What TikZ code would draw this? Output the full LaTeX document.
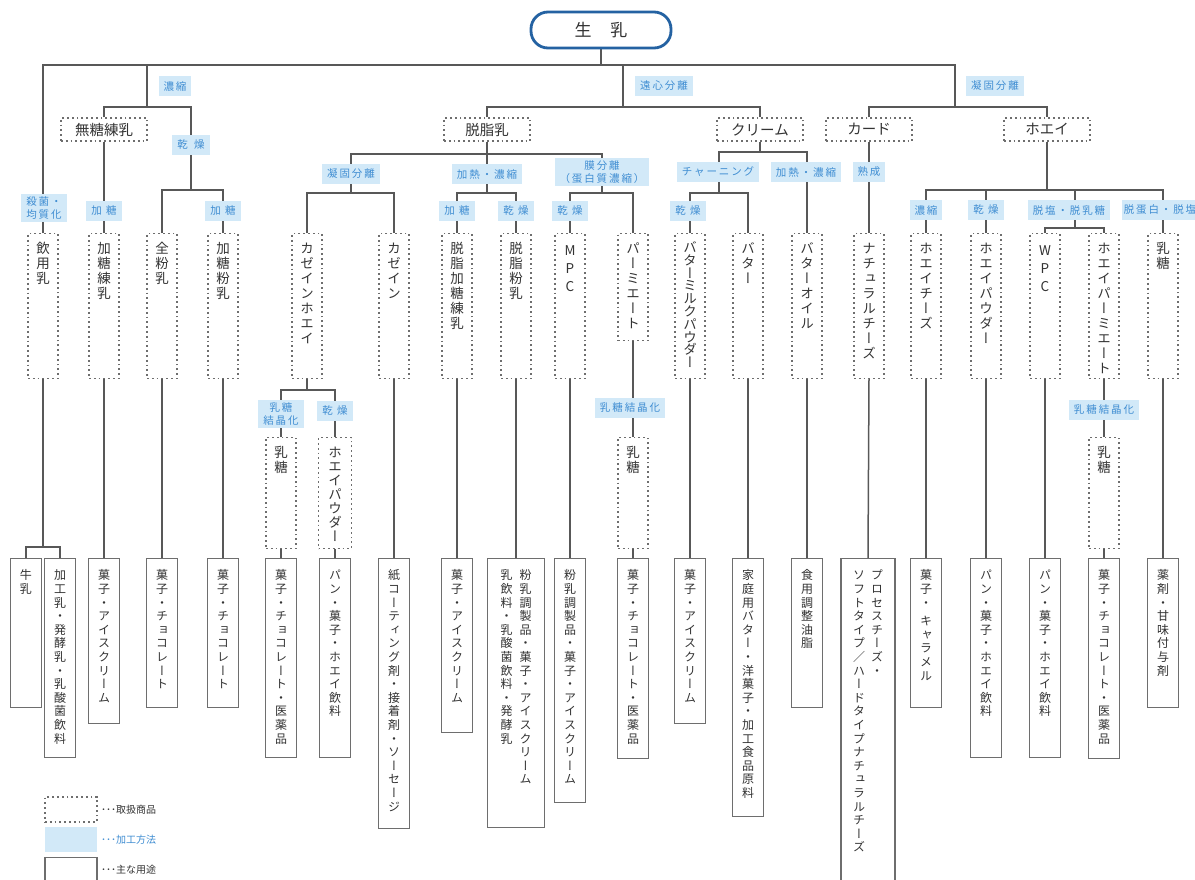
\documentclass[tikz,border=0pt]{standalone}
\usepackage{fontspec}
\setmainfont{Noto Sans CJK JP}
\newfontfamily\vjp[RawFeature=+vert]{Noto Sans CJK JP}
\newfontfamily\lbljp[LetterSpace=18]{Noto Sans CJK JP}
\usetikzlibrary{backgrounds}
\definecolor{lnc}{HTML}{585858}
\definecolor{bxc}{HTML}{6E6E6E}
\definecolor{lblf}{HTML}{D2E9F8}
\definecolor{lblt}{HTML}{3F8DD2}
\definecolor{rootc}{HTML}{2462A2}
\definecolor{txc}{HTML}{333333}
\newdimen\vpitch \newdimen\vcw \newdimen\vpad
\newcommand\vcell[1]{\hbox to \vcw{\hss\vbox to \vpitch{\vss\hbox{\vrule width 0pt height .88em depth .12em\smash{#1}}\vss}\hss}}
\ExplSyntaxOn
\NewDocumentCommand\vcells{m}{ \tl_map_inline:nn {#1} { \vcell{##1} } }
\ExplSyntaxOff
\newcommand\vt[2]{\vbox to #1{\offinterlineskip\vskip\vpad\vcells{#2}\vss}}
\newcommand\vdfont{\vjp\fontsize{13.5}{15}\selectfont\vpitch=15pt\relax\vcw=15pt\relax\vpad=7.5pt\relax}
\newcommand\vsfont{\vjp\fontsize{12}{14}\selectfont\vpitch=13.6pt\relax\vcw=14pt\relax\vpad=10pt\relax}
\tikzset{
  conn/.style={draw=lnc, line width=1.5pt},
  root/.style={draw=rootc, line width=2.8pt, rounded corners=17pt, minimum width=140pt, minimum height=36pt, inner sep=0pt, text=txc, font=\fontsize{17}{20}\selectfont},
  hd/.style={draw=bxc, line width=1.1pt, dash pattern=on 1.8pt off 3pt, minimum width=86pt, minimum height=23pt, inner sep=0pt, text=txc, font=\fontsize{14.5}{17}\selectfont},
  lbl/.style={fill=lblf, text=lblt, inner xsep=5pt, inner ysep=0pt, minimum height=20pt, font=\lbljp\fontsize{10.5}{12.5}\selectfont},
  lbltwo/.style={lbl, align=center, inner ysep=2.5pt},
  vd/.style={draw=bxc, line width=1.1pt, dash pattern=on 1.8pt off 3pt, minimum width=30pt, inner sep=0pt, anchor=north, text=txc, font=\vdfont},
  vs/.style={draw=bxc, line width=1.2pt, minimum width=31pt, inner sep=0pt, anchor=north, text=txc, font=\vsfont},
  leg/.style={anchor=west, inner sep=0pt, font=\fontsize{10}{12}\selectfont, text=txc},
}
\begin{document}
\begin{tikzpicture}[x=1pt,y=-1pt]
\useasboundingbox (0,0) rectangle (1195,879);
% root
\node[root] (milk) at (601,30) {生\hspace{1.1em}乳};
% level 1 labels
\node[lbl] (lA) at (175,86) {濃縮};
\node[lbl] (lB) at (664,86) {遠心分離};
\node[lbl] (lC) at (995,86) {凝固分離};
% level 2 boxes
\node[hd] (mutou) at (104,129.5) {無糖練乳};
\node[hd] (dasshi) at (487,129.5) {脱脂乳};
\node[hd] (cream) at (760,129.5) {クリーム};
\node[hd] (curd) at (869,129.5) {カード};
\node[hd] (whey) at (1047,129.5) {ホエイ};
% level 3 labels
\node[lbl] (lkan1) at (191,145) {乾\hspace{0.6em}燥};
\node[lbl] (lgyo2) at (351,174) {凝固分離};
\node[lbl] (lkane1) at (487,174) {加熱・濃縮};
\node[lbltwo] (lmaku) at (602,172) {膜分離\\（蛋白質濃縮）};
\node[lbl] (lchurn) at (718,172) {チャーニング};
\node[lbl] (lkane2) at (806,172) {加熱・濃縮};
\node[lbl] (ljuku) at (869,172) {熟成};
% level 4 labels
\node[lbltwo] (lsak) at (44,208) {殺菌・\\均質化};
\node[lbl] (lkat1) at (104,211) {加\hspace{0.4em}糖};
\node[lbl] (lkat2) at (223,211) {加\hspace{0.4em}糖};
\node[lbl] (lkat3) at (457,211) {加\hspace{0.4em}糖};
\node[lbl] (lkan2) at (516,211) {乾\hspace{0.4em}燥};
\node[lbl] (lkan3) at (570,211) {乾\hspace{0.4em}燥};
\node[lbl] (lkan4) at (688,211) {乾\hspace{0.4em}燥};
\node[lbl] (lnou2) at (926,210) {濃縮};
\node[lbl] (lkan5) at (986,210) {乾\hspace{0.4em}燥};
\node[lbl] (ldsalt) at (1069,210) {脱塩・脱乳糖};
\node[lbl, inner xsep=2pt] (ldprot) at (1160,210) {脱蛋白・脱塩};
% dotted product boxes
\node[vd] (inyo) at (43,233) {\vt{145pt}{飲用乳}};
\node[vd] (katoren) at (104,233) {\vt{145pt}{加糖練乳}};
\node[vd] (zenfun) at (162,233) {\vt{145pt}{全粉乳}};
\node[vd] (kafun) at (223,233) {\vt{145pt}{加糖粉乳}};
\node[vd] (casw) at (307,233) {\vt{145pt}{カゼインホエイ}};
\node[vd] (casein) at (394,233) {\vt{145pt}{カゼイン}};
\node[vd] (skren) at (457,233) {\vt{145pt}{脱脂加糖練乳}};
\node[vd] (skfun) at (516,233) {\vt{145pt}{脱脂粉乳}};
\node[vd] (mpc) at (570,233) {\vpitch=18pt\vt{145pt}{MPC}};
\node[vd] (perm) at (633,233) {\vt{107pt}{パーミエート}};
\node[vd] (bmp) at (690,233) {\vpitch=12.8pt\vt{145pt}{バターミルクパウダー}};
\node[vd] (butter) at (748,233) {\vt{145pt}{バター}};
\node[vd] (boil) at (807,233) {\vt{145pt}{バターオイル}};
\node[vd] (natural) at (869,233) {\vt{145pt}{ナチュラルチーズ}};
\node[vd] (wcheese) at (926,233) {\vt{145pt}{ホエイチーズ}};
\node[vd] (wpowder) at (986,233) {\vt{145pt}{ホエイパウダー}};
\node[vd] (wpc) at (1045,233) {\vpitch=18pt\vt{145pt}{WPC}};
\node[vd] (wperm) at (1104,233) {\vt{145pt}{ホエイパーミエート}};
\node[vd] (lactose) at (1163,233) {\vt{145pt}{乳糖}};
% second tier labels
\node[lbltwo] (llac1) at (281,414) {乳糖\\結晶化};
\node[lbl] (lkan6) at (335,411) {乾\hspace{0.4em}燥};
\node[lbl] (llac2) at (630,408) {乳糖結晶化};
\node[lbl] (llac3) at (1104,410) {乳糖結晶化};
% second tier dotted boxes
\node[vd] (lac1) at (281,437) {\vt{111pt}{乳糖}};
\node[vd, minimum width=33pt] (wpow2) at (335,437) {\vpitch=14pt\vt{111pt}{ホエイパウダー}};
\node[vd] (lac2) at (633,437) {\vt{111pt}{乳糖}};
\node[vd] (lac3) at (1104,437) {\vt{111pt}{乳糖}};
% uses (solid boxes)
\node[vs] (u1) at (26,558) {\vt{149pt}{牛乳}};
\node[vs] (u2) at (60,558) {\vt{199pt}{加工乳・発酵乳・乳酸菌飲料}};
\node[vs] (u3) at (104,558) {\vt{165pt}{菓子・アイスクリーム}};
\node[vs] (u4) at (162,558) {\vt{149pt}{菓子・チョコレート}};
\node[vs] (u5) at (223,558) {\vt{149pt}{菓子・チョコレート}};
\node[vs] (u6) at (281,558) {\vt{199pt}{菓子・チョコレート・医薬品}};
\node[vs] (u7) at (335,558) {\vt{199pt}{パン・菓子・ホエイ飲料}};
\node[vs] (u8) at (394,558) {\vt{270pt}{紙コーティング剤・接着剤・ソーセージ}};
\node[vs] (u9) at (457,558) {\vt{174pt}{菓子・アイスクリーム}};
\node[vs, minimum width=57pt] (u10) at (516,558) {\hbox{\vt{269pt}{乳飲料・乳酸菌飲料・発酵乳}\kern5pt\vt{269pt}{粉乳調製品・菓子・アイスクリーム}}};
\node[vs] (u11) at (570,558) {\vt{244pt}{粉乳調製品・菓子・アイスクリーム}};
\node[vs] (u12) at (633,558) {\vt{200pt}{菓子・チョコレート・医薬品}};
\node[vs] (u13) at (690,558) {\vt{165pt}{菓子・アイスクリーム}};
\node[vs] (u14) at (748,558) {\vt{258pt}{家庭用バター・洋菓子・加工食品原料}};
\node[vs] (u15) at (807,558) {\vt{149pt}{食用調整油脂}};
\node[vs, minimum width=54pt] (u16) at (868,558) {\hbox{\vt{330pt}{ソフトタイプ／ハードタイプナチュラルチーズ}\kern4pt\vt{330pt}{プロセスチーズ・}}};
\node[vs] (u17) at (926,558) {\vbox to 149pt{\offinterlineskip\vskip\vpad\vcells{菓子・}\vskip5pt\vcells{キャラメル}\vss}};
\node[vs] (u18) at (986,558) {\vt{199pt}{パン・菓子・ホエイ飲料}};
\node[vs] (u19) at (1045,558) {\vt{199pt}{パン・菓子・ホエイ飲料}};
\node[vs] (u20) at (1104,558) {\vt{200pt}{菓子・チョコレート・医薬品}};
\node[vs] (u21) at (1163,558) {\vt{149pt}{薬剤・甘味付与剤}};
% legend
\node[draw=bxc, line width=1.1pt, dash pattern=on 1.8pt off 3pt, minimum width=52pt, minimum height=25pt, inner sep=0pt] (legA) at (71,809.5) {};
\node[leg] (legAt) at (101,810) {･･･取扱商品};
\node[fill=lblf, minimum width=52pt, minimum height=25pt, inner sep=0pt] (legB) at (71,839.5) {};
\node[leg, text=lblt] (legBt) at (101,839.5) {･･･加工方法};
\node[draw=bxc, line width=1.2pt, minimum width=52pt, minimum height=30pt, inner sep=0pt, anchor=north] (legC) at (71,857) {};
\node[leg] (legCt) at (101,870) {･･･主な用途};
% connectors
\begin{pgfonlayer}{background}
\fill[white] (0,0) rectangle (1195,879);
\coordinate (t0) at (601,65);
\coordinate (tA) at (147,65);
\coordinate (tB) at (623,65);
\coordinate (tC) at (955,65);
\coordinate (jA) at (147,107);
\coordinate (jB) at (623,107);
\coordinate (jC) at (955,107);
\coordinate (jD) at (191,107);
\coordinate (jE) at (191,190);
\draw[conn] (milk.south) -- (t0);
\draw[conn] (inyo.north) |- (tC) -- (jC);
\draw[conn] (tA) -- (jA);
\draw[conn] (tB) -- (jB);
\draw[conn] (mutou.north) |- (jA) -- (jD) -- (jE);
\draw[conn] (zenfun.north) |- (jE) -| (kafun.north);
\draw[conn] (mutou.south) -- (katoren.north);
\draw[conn] (dasshi.north) |- (jB) -| (cream.north);
\draw[conn] (curd.north) |- (jC) -| (whey.north);
% skim milk
\coordinate (jF) at (487,154);
\coordinate (jG) at (351,193);
\coordinate (jH) at (487,193);
\coordinate (jI) at (602,193);
\draw[conn] (dasshi.south) -- (jH);
\draw[conn] (jG) |- (jF) -| (jI);
\draw[conn] (casw.north) |- (jG) -| (casein.north);
\draw[conn] (skren.north) |- (jH) -| (skfun.north);
\draw[conn] (mpc.north) |- (jI) -| (perm.north);
% cream
\coordinate (jJ) at (760,152);
\coordinate (jK) at (719,193);
\draw[conn] (cream.south) -- (jJ);
\draw[conn] (jK) |- (jJ) -| (boil.north);
\draw[conn] (bmp.north) |- (jK) -| (butter.north);
% curd
\draw[conn] (curd.south) -- (natural.north);
% whey
\coordinate (jL) at (1047,190);
\coordinate (jM0) at (1075,190);
\coordinate (jM) at (1075,228);
\draw[conn] (whey.south) -- (jL);
\draw[conn] (wcheese.north) |- (jL) -| (lactose.north);
\draw[conn] (wpowder.north) -- (wpowder.north |- jL);
\draw[conn] (jM0) -- (jM);
\draw[conn] (wpc.north) |- (jM) -| (wperm.north);
% second tier
\coordinate (jN) at (307,390);
\draw[conn] (casw.south) -- (jN);
\draw[conn] (lac1.north) |- (jN) -| (wpow2.north);
\draw[conn] (perm.south) -- (lac2.north);
\draw[conn] (wperm.south) -- (lac3.north);
% to uses
\coordinate (jO) at (43,547);
\draw[conn] (inyo.south) -- (jO);
\draw[conn, line width=1.2pt] (u1.north) |- (jO) -| (u2.north);
\draw[conn] (katoren.south) -- (u3.north);
\draw[conn] (zenfun.south) -- (u4.north);
\draw[conn] (kafun.south) -- (u5.north);
\draw[conn] (lac1.south) -- (u6.north);
\draw[conn] (wpow2.south) -- (u7.north);
\draw[conn] (casein.south) -- (u8.north);
\draw[conn] (skren.south) -- (u9.north);
\draw[conn] (skfun.south) -- (u10.north);
\draw[conn] (mpc.south) -- (u11.north);
\draw[conn] (lac2.south) -- (u12.north);
\draw[conn] (bmp.south) -- (u13.north);
\draw[conn] (butter.south) -- (u14.north);
\draw[conn] (boil.south) -- (u15.north);
\draw[conn] (natural.south) -- (u16.north);
\draw[conn] (wcheese.south) -- (u17.north);
\draw[conn] (wpowder.south) -- (u18.north);
\draw[conn] (wpc.south) -- (u19.north);
\draw[conn] (lac3.south) -- (u20.north);
\draw[conn] (lactose.south) -- (u21.north);
\end{pgfonlayer}
\end{tikzpicture}
\end{document}
